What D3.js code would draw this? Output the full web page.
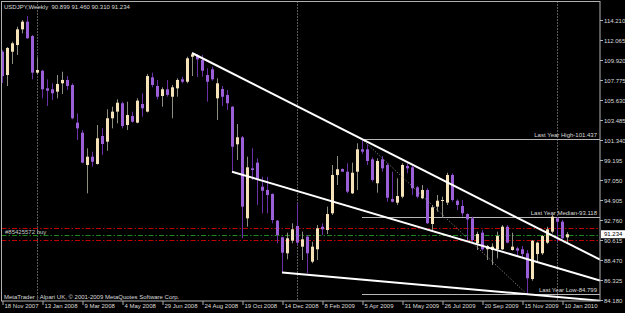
<!DOCTYPE html>
<html>
<head>
<meta charset="utf-8">
<script src="https://cdn.jsdelivr.net/npm/d3@7"></script>
<style>
  html, body { margin: 0; padding: 0; background: #000; }
  svg { display: block; background: #000; }
  text { font-family: "Liberation Sans", Arial, sans-serif; font-size: 6px; }
</style>
</head>
<body>
<svg width="625" height="313"></svg>
<script>
const symbol = "USDJPY,Weekly";
const firstWeek = "2007-11-18";

const opens = [
  110.81, 108.31, 110.81, 111.53, 113.21, 114.03, 112.49, 108.56, 108.77, 106.88,
  106.78, 106.52, 107.42, 107.78, 107.24, 103.20, 102.12, 98.66, 99.55, 98.77,
  101.77, 101.16, 103.67, 104.38, 105.28, 102.95, 103.91, 103.20, 105.20, 104.38,
  108.06, 107.13, 106.06, 106.78, 105.98, 106.88, 107.85, 107.59, 110.27, 110.40,
  109.92, 108.31, 108.92, 105.81, 106.81, 106.17, 104.91, 100.88, 101.63, 92.94,
  98.30, 98.91, 96.33, 95.98, 95.55, 92.69, 90.91, 89.19, 90.54, 92.12,
  89.90, 90.97, 88.29, 89.62, 92.04, 91.69, 93.48, 97.59, 98.23, 97.94,
  95.62, 97.94, 100.34, 100.34, 99.27, 96.70, 99.27, 98.66, 95.01, 94.62,
  95.26, 98.55, 98.41, 96.27, 95.09, 95.98, 92.33, 94.19, 94.80, 94.62,
  97.59, 94.83, 94.26, 93.40, 92.94, 90.26, 91.40, 89.62, 89.54, 89.62,
  89.62, 92.04, 89.54, 89.72, 89.62, 89.19, 86.43, 89.11, 89.19, 90.33,
  91.51, 92.94, 92.58, 90.899
];
const highs = [
  110.99, 111.31, 111.88, 113.49, 114.21, 114.64, 112.60, 110.21, 108.85, 107.85,
  107.42, 108.31, 108.66, 108.20, 107.42, 104.20, 102.41, 100.45, 100.09, 102.95,
  102.59, 104.63, 104.91, 105.70, 105.45, 105.45, 104.38, 105.81, 106.35, 108.42,
  108.56, 107.78, 106.99, 107.78, 107.24, 107.96, 108.13, 110.27, 110.67, 110.56,
  110.46, 109.03, 109.20, 107.96, 107.13, 106.70, 104.99, 103.05, 101.77, 99.55,
  100.45, 99.38, 97.40, 97.40, 95.62, 92.76, 90.97, 91.40, 92.41, 94.55,
  91.51, 91.15, 90.43, 92.22, 92.41, 94.19, 98.66, 99.62, 98.30, 98.84,
  98.91, 100.99, 101.437, 100.88, 99.49, 99.38, 99.62, 98.84, 97.94, 97.23,
  98.84, 98.84, 98.55, 96.41, 96.51, 96.16, 94.37, 95.44, 95.26, 97.83,
  97.77, 94.98, 94.905, 93.48, 93.12, 91.51, 91.69, 90.08, 90.26, 91.51,
  92.22, 92.22, 91.40, 89.90, 89.97, 89.54, 90.615, 90.43, 91.15, 92.04,
  93.30, 93.05, 92.76, 91.460
];
const lows = [
  107.45, 107.13, 109.49, 110.46, 112.78, 112.20, 107.85, 108.42, 105.81, 104.99,
  105.63, 105.81, 106.27, 106.70, 103.56, 101.34, 98.84, 95.62, 98.48, 98.70,
  99.73, 100.19, 102.59, 103.13, 102.59, 102.41, 103.20, 103.13, 103.84, 104.30,
  106.99, 105.70, 104.91, 105.98, 103.67, 105.98, 107.42, 107.42, 108.20, 108.10,
  108.13, 105.45, 107.70, 103.49, 104.99, 104.56, 97.94, 99.195, 90.80, 92.04,
  97.05, 94.37, 93.48, 93.48, 92.41, 90.26, 87.13, 88.54, 90.26, 90.08,
  88.47, 87.04, 88.12, 88.47, 91.15, 91.26, 93.30, 96.51, 97.94, 95.62,
  95.55, 95.98, 99.84, 98.66, 96.87, 95.69, 97.94, 94.72, 94.65, 94.37,
  95.09, 97.77, 95.44, 95.09, 95.00, 92.33, 91.69, 93.65, 92.97, 94.37,
  94.72, 93.83, 93.12, 90.615, 90.43, 89.54, 89.47, 88.47, 87.93, 88.65,
  89.54, 90.26, 89.47, 88.82, 88.65, 84.799, 86.25, 88.29, 89.01, 90.19,
  91.33, 90.43, 90.69, 90.310
];
const closes = [
  108.20, 111.21, 111.71, 113.21, 114.03, 112.25, 108.56, 108.85, 106.78, 106.63,
  106.35, 107.35, 107.78, 107.13, 103.67, 102.59, 98.91, 99.55, 99.01, 101.52,
  100.91, 103.67, 104.38, 105.34, 102.84, 104.02, 103.30, 105.56, 104.74, 108.20,
  107.24, 105.98, 106.78, 106.17, 106.99, 107.78, 107.59, 110.10, 110.53, 109.99,
  108.77, 107.59, 107.85, 107.42, 105.98, 105.28, 100.62, 101.63, 94.19, 98.41,
  98.12, 97.12, 95.90, 95.44, 92.76, 91.15, 89.25, 90.80, 91.76, 90.33,
  90.69, 89.19, 89.90, 91.87, 91.76, 93.40, 97.59, 98.20, 97.94, 95.80,
  97.83, 100.34, 100.09, 99.09, 97.05, 99.09, 98.30, 95.15, 94.72, 95.33,
  98.66, 98.30, 96.16, 95.26, 95.98, 92.41, 94.12, 94.83, 94.905, 97.59,
  94.905, 94.37, 93.48, 92.83, 90.615, 91.26, 89.62, 89.97, 89.90, 91.04,
  92.04, 90.33, 89.90, 89.47, 89.11, 86.51, 90.54, 90.33, 91.04, 91.76,
  93.12, 92.58, 90.80, 91.234
];

const priceTicks = [84.180, 86.325, 88.470, 90.615, 92.760, 94.905, 97.050, 99.195,
  101.340, 103.485, 105.630, 107.775, 109.920, 112.065, 114.210];
const dateTickEvery = 8;

// trend lines drawn as rays to the right edge, [week, price]
const upperTrend = [["2008-08-10", 110.67], ["2009-04-05", 101.437]];
const middleTrend = [["2008-10-05", 97.94], ["2009-12-27", 87.78]];
const lowerTrend = [["2008-12-14", 87.13], ["2009-12-27", 84.56]];
const swingLine = [["2009-04-05", 101.437], ["2009-11-22", 84.799]];

const levelNames = ["Last Year High", "Last Year Median", "Last Year Low"];
const levelValues = [101.437, 93.118, 84.799];
const levelFrom = "2009-04-05";

const orderLabel = "#85425572 buy";
const orderPrice = 91.18;
const stopPrices = [91.87, 90.60];

const copyright = "MetaTrader - Alpari UK, \u00a9 2001-2009 MetaQuotes Software Corp.";

const svg = d3.select("svg");
const width = +svg.attr("width");

const frame = { left: 1.5, top: 1.5, right: 600, bottom: 301 };
const barStep = 5;
const textColor = "#dcdcdc";

const parseDay = d3.utcParse("%Y-%m-%d");
const fmt = d3.format(".3f");
const start = parseDay(firstWeek);
const bars = opens.map((o, i) => ({
  date: d3.utcWeek.offset(start, i),
  open: o,
  high: highs[i],
  low: lows[i],
  close: closes[i]
}));
const n = bars.length;

const x = d3.scaleUtc()
  .domain([bars[0].date, bars[n - 1].date])
  .range([2, 2 + barStep * (n - 1)]);

const y = d3.scaleLinear()
  .domain([priceTicks[0], priceTicks[priceTicks.length - 1]])
  .range([300, 20]);

svg.append("defs").append("clipPath").attr("id", "plot")
  .append("rect")
  .attr("x", frame.left + 0.5)
  .attr("y", frame.top + 0.5)
  .attr("width", frame.right - frame.left - 0.5)
  .attr("height", frame.bottom - frame.top - 0.5);

const plot = svg.append("g").attr("clip-path", "url(#plot)");

// year separators
const yearStarts = bars.filter((d, i) => i > 0 && d.date.getUTCFullYear() !== bars[i - 1].date.getUTCFullYear());
plot.selectAll(".sep").data(yearStarts).join("line")
  .attr("class", "sep")
  .attr("x1", (d) => x(d.date) + 0.5)
  .attr("x2", (d) => x(d.date) + 0.5)
  .attr("y1", frame.top)
  .attr("y2", frame.bottom)
  .attr("stroke", "#b4b4b4")
  .attr("stroke-dasharray", "1,2");

// order lines
plot.selectAll(".stop").data(stopPrices).join("line")
  .attr("class", "stop")
  .attr("x1", frame.left).attr("x2", frame.right)
  .attr("y1", (d) => Math.round(y(d)) + 0.5)
  .attr("y2", (d) => Math.round(y(d)) + 0.5)
  .attr("stroke", "#c00000")
  .attr("stroke-dasharray", "5,2,1.5,2");

plot.append("line")
  .attr("x1", frame.left).attr("x2", frame.right)
  .attr("y1", Math.round(y(orderPrice)) + 0.5)
  .attr("y2", Math.round(y(orderPrice)) + 0.5)
  .attr("stroke", "#1a8a1a")
  .attr("stroke-dasharray", "5,2,1.5,2");

plot.append("text")
  .attr("x", 5)
  .attr("y", y(orderPrice) - 1)
  .style("fill", "#c8c8c8")
  .text(orderLabel);

// last-year levels
plot.selectAll(".level").data(levelValues).join("line")
  .attr("class", "level")
  .attr("x1", x(parseDay(levelFrom)))
  .attr("x2", frame.right)
  .attr("y1", (d) => Math.round(y(d)) + 0.5)
  .attr("y2", (d) => Math.round(y(d)) + 0.5)
  .attr("stroke", "#b8b8b8");

plot.selectAll(".level-label").data(levelValues).join("text")
  .attr("class", "level-label")
  .attr("x", frame.right - 3)
  .attr("y", (d) => y(d) - 2)
  .attr("text-anchor", "end")
  .style("fill", textColor)
  .text((d, i) => `${levelNames[i]}-${fmt(d)}`);

// candles
const isBull = (d) => d.close >= d.open;

plot.selectAll(".wick").data(bars).join("line")
  .attr("class", "wick")
  .attr("x1", (d) => x(d.date) + 0.5)
  .attr("x2", (d) => x(d.date) + 0.5)
  .attr("y1", (d) => y(d.high))
  .attr("y2", (d) => y(d.low))
  .attr("stroke", (d) => isBull(d) ? "#8e8e80" : "#6a30a8");

plot.selectAll(".body").data(bars).join("rect")
  .attr("class", "body")
  .attr("x", (d) => x(d.date) - 1)
  .attr("width", 3)
  .attr("y", (d) => y(Math.max(d.open, d.close)))
  .attr("height", (d) => Math.max(1, Math.abs(y(d.open) - y(d.close))))
  .attr("fill", (d) => isBull(d) ? "#f6e2b8" : "#9b5fd8");

// trend rays
const tEnd = x.invert(frame.right);
const extendRay = (pts) => {
  const t0 = parseDay(pts[0][0]);
  const t1 = parseDay(pts[1][0]);
  const slope = (pts[1][1] - pts[0][1]) / (t1 - t0);
  return [[t0, pts[0][1]], [tEnd, pts[0][1] + slope * (tEnd - t0)]];
};
const lineMaker = d3.line().x((d) => x(d[0])).y((d) => y(d[1]));

plot.append("path")
  .attr("d", lineMaker(swingLine.map((d) => [parseDay(d[0]), d[1]])))
  .attr("fill", "none")
  .attr("stroke", "#9a9a9a")
  .attr("stroke-dasharray", "1,2");

plot.selectAll(".trend").data([upperTrend, middleTrend, lowerTrend]).join("path")
  .attr("class", "trend")
  .attr("d", (d) => lineMaker(extendRay(d)))
  .attr("fill", "none")
  .attr("stroke", "#ffffff")
  .attr("stroke-width", 2);

// frame
svg.append("rect")
  .attr("x", frame.left).attr("y", frame.top)
  .attr("width", frame.right - frame.left)
  .attr("height", frame.bottom - frame.top)
  .attr("fill", "none")
  .attr("stroke", "#b0b0b0");

// price axis
const priceAxis = svg.append("g")
  .attr("transform", `translate(${frame.right}, 0)`)
  .call(d3.axisRight(y).tickValues(priceTicks).tickSize(3).tickFormat(fmt));
priceAxis.select(".domain").remove();
priceAxis.selectAll("line").attr("stroke", "#b0b0b0");
priceAxis.selectAll("text")
  .attr("x", 4)
  .attr("dy", "0.35em")
  .style("fill", textColor)
  .style("font-size", "6px")
  .style("font-family", "'Liberation Sans', Arial, sans-serif");

// date axis
const dateTicks = bars.filter((d, i) => i % dateTickEvery === 0).map((d) => d.date);
const dateAxis = svg.append("g")
  .attr("transform", `translate(0.5, ${frame.bottom})`)
  .call(d3.axisBottom(x).tickValues(dateTicks).tickSize(4).tickFormat(d3.utcFormat("%-d %b %Y")));
dateAxis.select(".domain").remove();
dateAxis.selectAll("line").attr("stroke", "#b0b0b0");
dateAxis.selectAll("text")
  .attr("x", 1.5)
  .attr("y", 3)
  .attr("dy", "0.71em")
  .attr("text-anchor", "start")
  .style("fill", textColor)
  .style("font-size", "6px")
  .style("font-family", "'Liberation Sans', Arial, sans-serif");

// current price marker
const last = bars[n - 1];
svg.append("rect")
  .attr("x", frame.right + 1)
  .attr("y", y(last.close) - 4)
  .attr("width", width - frame.right - 1)
  .attr("height", 8)
  .attr("fill", "#ffffff");
svg.append("text")
  .attr("x", frame.right + 4)
  .attr("y", y(last.close))
  .attr("dy", "0.35em")
  .style("fill", "#000000")
  .text(fmt(last.close));

// header and footer
svg.append("text")
  .attr("x", 4)
  .attr("y", 9)
  .attr("xml:space", "preserve")
  .style("fill", textColor)
  .text(`${symbol}  ${fmt(last.open)} ${fmt(last.high)} ${fmt(last.low)} ${fmt(last.close)}`);

svg.append("text")
  .attr("x", 4)
  .attr("y", 299)
  .style("fill", textColor)
  .text(copyright);
</script>
</body>
</html>
